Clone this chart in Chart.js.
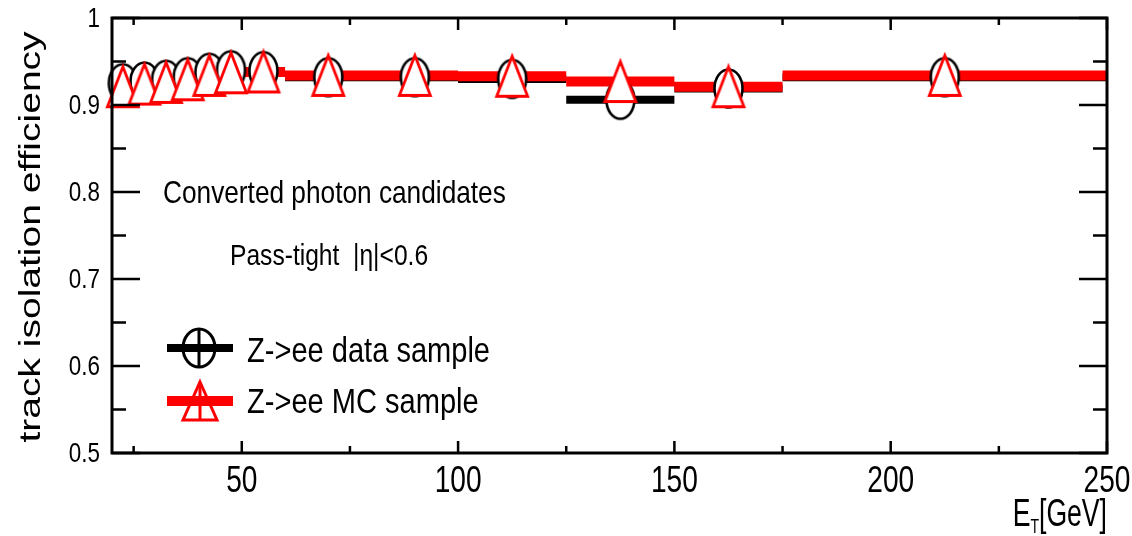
<!DOCTYPE html>
<html><head><meta charset="utf-8">
<script src="https://cdn.jsdelivr.net/npm/chart.js@4/dist/chart.umd.min.js"></script>
<style>html,body{margin:0;padding:0;background:#fff;}#wrap{width:1132px;height:536px;position:relative;}</style>
</head><body><div id="wrap"><canvas id="c" width="1132" height="536"></canvas></div>
<script>
// ---- data ----
const binEdges = [20, 25, 30, 35, 40, 45, 50, 60, 80, 100, 125, 150, 175, 250];
const dataEff = [0.925, 0.927, 0.929, 0.932, 0.937, 0.940, 0.939, 0.932, 0.932, 0.930, 0.906, 0.919, 0.932];
const mcEff   = [0.921, 0.924, 0.926, 0.929, 0.934, 0.937, 0.938, 0.934, 0.934, 0.933, 0.927, 0.921, 0.934];
const xTickValues = [50, 100, 150, 200, 250];
const xTickLabels = ['50', '100', '150', '200', '250'];
const xMinorTicks = [25, 75, 125, 175, 225];
const yTickValues = [0.5, 0.6, 0.7, 0.8, 0.9, 1.0];
const yTickLabels = ['0.5', '0.6', '0.7', '0.8', '0.9', '1'];
const yMinorTicks = [0.55, 0.65, 0.75, 0.85, 0.95];
const seriesNames = ['Z->ee data sample', 'Z->ee MC sample'];
const annotations = ['Converted photon candidates', 'Pass-tight  |\u03b7|<0.6'];
const xTitleParts = ['E', 'T', '[GeV]'];
const yTitle = 'track isolation efficiency';

const FONT = '"Liberation Sans", Arial, Helvetica, sans-serif';

function binSegments(edges, vals) {
  const pts = [];
  vals.forEach((v, i) => {
    pts.push({x: edges[i], y: v});
    pts.push({x: edges[i + 1], y: v});
    pts.push({x: edges[i + 1], y: null});
  });
  return pts;
}
function binCenters(edges, vals) {
  return vals.map((v, i) => ({x: (edges[i] + edges[i + 1]) / 2, y: v}));
}

function ellipseMarker(w, h, lw, color) {
  const c = document.createElement('canvas');
  c.width = w + lw * 2 + 2; c.height = h + lw * 2 + 2;
  const g = c.getContext('2d');
  g.beginPath();
  g.ellipse(c.width / 2, c.height / 2, w / 2, h / 2, 0, 0, Math.PI * 2);
  g.fillStyle = '#fff'; g.fill();
  g.lineWidth = lw; g.strokeStyle = color; g.stroke();
  return c;
}
function triangleMarker(w, h, lw, color) {
  const c = document.createElement('canvas');
  c.width = w + lw * 2 + 2; c.height = h + lw * 2 + 2;
  const g = c.getContext('2d');
  const cx = c.width / 2, cy = c.height / 2;
  g.beginPath();
  g.moveTo(cx, cy - h / 2);
  g.lineTo(cx + w / 2, cy + h / 2);
  g.lineTo(cx - w / 2, cy + h / 2);
  g.closePath();
  g.fillStyle = '#fff'; g.fill();
  g.lineWidth = lw; g.strokeStyle = color; g.stroke();
  return c;
}
const circleImg = ellipseMarker(28, 38, 2.6, '#000');
const triImg = triangleMarker(31, 40, 2.8, '#ff0000');

function txt(ctx, s, x, y, size, sx, align) {
  ctx.save();
  ctx.translate(x, y);
  ctx.scale(sx, 1);
  ctx.font = size + 'px ' + FONT;
  ctx.textAlign = align || 'left';
  ctx.textBaseline = 'alphabetic';
  ctx.fillText(s, 0, 0);
  ctx.restore();
}
function txtW(ctx, s, size, sx) {
  ctx.save(); ctx.font = size + 'px ' + FONT;
  const w = ctx.measureText(s).width * sx; ctx.restore(); return w;
}

const framePlugin = {
  id: 'frame',
  afterDatasetsDraw(chart) {
    const {ctx, chartArea: a, scales: {x, y}} = chart;
    ctx.save();
    ctx.strokeStyle = '#000';
    ctx.lineWidth = 3;
    ctx.strokeRect(a.left, a.top, a.right - a.left, a.bottom - a.top);
    ctx.lineWidth = 2.5;
    ctx.beginPath();
    const xt = (vals, len) => vals.forEach(v => {
      const px = x.getPixelForValue(v);
      ctx.moveTo(px, a.bottom); ctx.lineTo(px, a.bottom - len);
      ctx.moveTo(px, a.top); ctx.lineTo(px, a.top + len);
    });
    const yt = (vals, len) => vals.forEach(v => {
      const py = y.getPixelForValue(v);
      ctx.moveTo(a.left, py); ctx.lineTo(a.left + len, py);
      ctx.moveTo(a.right, py); ctx.lineTo(a.right - len, py);
    });
    xt(xTickValues, 12); xt(xMinorTicks, 7);
    yt(yTickValues, 28); yt(yMinorTicks, 14);
    ctx.stroke();
    ctx.restore();
  },
  afterDraw(chart) {
    const {ctx, chartArea: a, scales: {x, y}} = chart;
    ctx.save();
    ctx.fillStyle = '#000';
    xTickValues.forEach((v, i) => txt(ctx, xTickLabels[i], x.getPixelForValue(v), a.bottom + 39, 36, 0.78, 'center'));
    yTickValues.forEach((v, i) => txt(ctx, yTickLabels[i], a.left - 12, y.getPixelForValue(v) + 9, 27, 0.83, 'right'));

    txt(ctx, annotations[0], 163, 203, 32, 0.82);
    txt(ctx, annotations[1], 230, 265, 30, 0.82);

    ctx.strokeStyle = '#000';
    ctx.lineWidth = 8;
    ctx.beginPath(); ctx.moveTo(167, 348); ctx.lineTo(233, 348); ctx.stroke();
    ctx.lineWidth = 3;
    ctx.beginPath(); ctx.ellipse(199, 348, 16, 19, 0, 0, Math.PI * 2); ctx.stroke();
    ctx.beginPath(); ctx.moveTo(199, 329); ctx.lineTo(199, 367); ctx.stroke();
    ctx.strokeStyle = '#ff0000';
    ctx.lineWidth = 10;
    ctx.beginPath(); ctx.moveTo(167, 401); ctx.lineTo(233, 401); ctx.stroke();
    ctx.lineWidth = 3;
    ctx.beginPath();
    ctx.moveTo(200, 382); ctx.lineTo(217, 420); ctx.lineTo(183, 420); ctx.closePath(); ctx.stroke();
    ctx.beginPath(); ctx.moveTo(200, 382); ctx.lineTo(200, 420); ctx.stroke();
    ctx.fillStyle = '#000';
    txt(ctx, seriesNames[0], 247, 362, 35, 0.83);
    txt(ctx, seriesNames[1], 247, 413, 35, 0.83);

    ctx.save();
    ctx.translate(40, 237);
    ctx.rotate(-Math.PI / 2);
    ctx.scale(1.3, 1);
    ctx.font = '30px ' + FONT;
    ctx.textAlign = 'center';
    ctx.fillText(yTitle, 0, 0);
    ctx.restore();

    const sE = 38, sT = 20, sx = 0.7;
    const wE = txtW(ctx, xTitleParts[0], sE, sx);
    const wT = txtW(ctx, xTitleParts[1], sT, sx);
    const wG = txtW(ctx, xTitleParts[2], sE, sx);
    const x0 = a.right - wG - wT - wE;
    txt(ctx, xTitleParts[0], x0, 526, sE, sx);
    txt(ctx, xTitleParts[1], x0 + wE, 533, sT, sx);
    txt(ctx, xTitleParts[2], x0 + wE + wT, 526, sE, sx);
    ctx.restore();
  }
};

new Chart(document.getElementById('c'), {
  type: 'scatter',
  data: {
    datasets: [
      {label: seriesNames[1] + ' markers', data: binCenters(binEdges, mcEff), pointStyle: triImg,
       pointRadius: 15, showLine: false, order: 0, clip: false},
      {label: seriesNames[0] + ' markers', data: binCenters(binEdges, dataEff), pointStyle: circleImg,
       pointRadius: 15, showLine: false, order: 1, clip: false},
      {label: seriesNames[1], data: binSegments(binEdges, mcEff), showLine: true, spanGaps: false,
       borderColor: '#ff0000', borderWidth: 10, pointRadius: 0, borderCapStyle: 'butt', order: 2},
      {label: seriesNames[0], data: binSegments(binEdges, dataEff), showLine: true, spanGaps: false,
       borderColor: '#000000', borderWidth: 8, pointRadius: 0, borderCapStyle: 'butt', order: 3}
    ]
  },
  options: {
    responsive: false,
    animation: false,
    devicePixelRatio: 1,
    layout: {padding: {left: 0, right: 25, top: 18, bottom: 0}},
    plugins: {legend: {display: false}, tooltip: {enabled: false}},
    scales: {
      x: {
        type: 'linear', min: 20, max: 250,
        grid: {display: false, drawTicks: false},
        border: {display: false},
        afterBuildTicks: s => { s.ticks = xTickValues.map(v => ({value: v})); },
        afterFit: s => { s.height = 83; },
        ticks: {display: false}
      },
      y: {
        type: 'linear', min: 0.5, max: 1,
        grid: {display: false, drawTicks: false},
        border: {display: false},
        afterBuildTicks: s => { s.ticks = yTickValues.map(v => ({value: v})); },
        afterFit: s => { s.width = 112; },
        ticks: {display: false}
      }
    }
  },
  plugins: [framePlugin]
});
</script>
</body></html>
